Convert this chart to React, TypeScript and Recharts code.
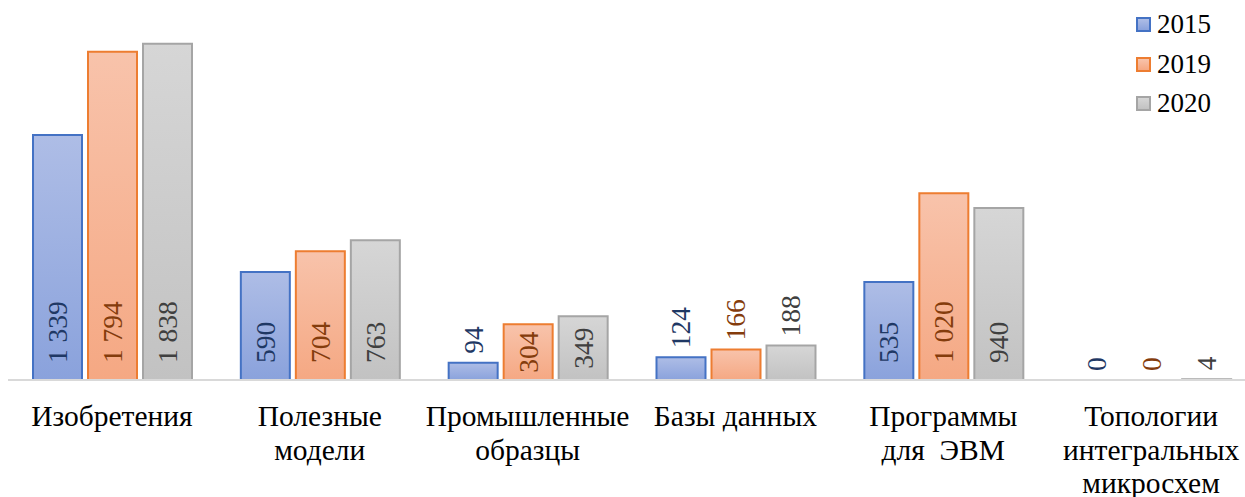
import { Bar, BarChart, Cell, LabelList, XAxis, YAxis } from 'recharts';

const CATEGORIES = [
  'Изобретения',
  'Полезные\nмодели',
  'Промышленные\nобразцы',
  'Базы данных',
  'Программы\nдля  ЭВМ',
  'Топологии\nинтегральных\nмикросхем',
];

const VALUES_2015 = [1339, 590, 94, 124, 535, 0];
const VALUES_2019 = [1794, 704, 304, 166, 1020, 0];
const VALUES_2020 = [1838, 763, 349, 188, 940, 4];

const SERIES = [
  { key: 'y2015', name: '2015', values: VALUES_2015, stroke: '#4472c4', top: '#aebde6', bottom: '#8aa2dc', text: '#1f3864' },
  { key: 'y2019', name: '2019', values: VALUES_2019, stroke: '#ed7d31', top: '#f8c3ab', bottom: '#f5a883', text: '#843c0c' },
  { key: 'y2020', name: '2020', values: VALUES_2020, stroke: '#a5a5a5', top: '#d6d6d6', bottom: '#c2c2c2', text: '#404040' },
];

const FONT = "'Liberation Serif', 'Times New Roman', serif";
const LABEL_SIZE = 27.5;

const data = CATEGORIES.map((name, i) => ({
  name,
  y2015: VALUES_2015[i],
  y2019: VALUES_2019[i],
  y2020: VALUES_2020[i],
}));

function formatValue(v: number) {
  return String(v).replace(/\B(?=(\d{3})+(?!\d))/g, '\u00a0');
}

function CategoryTick(props: any) {
  const { x, y, payload } = props;
  const lines = String(payload.value).split('\n');
  return (
    <text
      x={x}
      y={y + 46}
      textAnchor="middle"
      fill="#000"
      style={{ whiteSpace: 'pre', fontFamily: FONT, fontSize: 29.5 }}
    >
      {lines.map((line, i) => (
        <tspan key={i} x={x} dy={i === 0 ? 0 : 33.6}>
          {line}
        </tspan>
      ))}
    </text>
  );
}

// vertical value label: inside near the base when it fits, above the bar otherwise
function makeValueLabel(color: string) {
  return function ValueLabel(props: any) {
    const { x, y, width, height, value } = props;
    const text = formatValue(Number(value));
    const digits = text.replace(/\D/g, '').length;
    const spaces = text.length - digits;
    const w = digits * LABEL_SIZE * 0.5 + spaces * LABEL_SIZE * 0.25;
    const cx = x + width / 2;
    const top = Math.min(y, y + height);
    const bottom = Math.max(y, y + height);
    const h = Number(value) === 0 ? 0 : bottom - top;
    let start: number;
    if (h >= w + 8) {
      start = bottom - 17;
      if (start - w < top + 8) start = (top + bottom) / 2 + w / 2;
    } else {
      start = bottom - h - 9;
    }
    return (
      <text
        x={cx}
        y={start}
        transform={`rotate(-90, ${cx}, ${start})`}
        textAnchor="start"
        dominantBaseline="central"
        fill={color}
        style={{ fontFamily: FONT, fontSize: LABEL_SIZE }}
      >
        {text}
      </text>
    );
  };
}

function LegendBox() {
  return (
    <div style={{ position: 'absolute', left: 1136, top: 5, fontFamily: FONT, fontSize: 27, lineHeight: '39.5px' }}>
      {SERIES.map((s) => (
        <div key={s.key} style={{ display: 'flex', alignItems: 'center', height: 39.5 }}>
          <span
            style={{
              width: 11,
              height: 11,
              border: `2px solid ${s.stroke}`,
              background: `linear-gradient(${s.top}, ${s.bottom})`,
              marginRight: 6,
            }}
          />
          <span style={{ color: '#000' }}>{s.name}</span>
        </div>
      ))}
    </div>
  );
}

export default function App() {
  return (
    <div style={{ position: 'absolute', left: 0, top: 0, width: 1245, height: 497, overflow: 'hidden', background: '#fff' }}>
      <BarChart
        width={1255}
        height={497}
        data={data}
        margin={{ top: 14, right: 0, left: 8, bottom: 0 }}
        barCategoryGap={25}
        barGap={6}
      >
        <defs>
          {SERIES.map((s) => (
            <linearGradient key={s.key} id={`grad-${s.key}`} x1="0" y1="0" x2="0" y2="1">
              <stop offset="0%" stopColor={s.top} />
              <stop offset="100%" stopColor={s.bottom} />
            </linearGradient>
          ))}
        </defs>
        <XAxis
          dataKey="name"
          height={117}
          interval={0}
          tickLine={false}
          tickSize={0}
          tickMargin={0}
          axisLine={{ stroke: '#d9d9d9', strokeWidth: 2 }}
          tick={<CategoryTick />}
        />
        <YAxis hide domain={[0, 2000]} />
        {SERIES.map((s) => (
          <Bar
            key={s.key}
            dataKey={s.key}
            name={s.name}
            fill={`url(#grad-${s.key})`}
            stroke={s.stroke}
            strokeWidth={2}
            minPointSize={0.5}
            isAnimationActive={false}
          >
            {s.values.map((v, i) => (
              <Cell key={i} stroke={v === 0 ? 'none' : s.stroke} fill={v === 0 ? 'none' : `url(#grad-${s.key})`} />
            ))}
            <LabelList dataKey={s.key} content={makeValueLabel(s.text)} />
          </Bar>
        ))}
      </BarChart>
      <LegendBox />
    </div>
  );
}
